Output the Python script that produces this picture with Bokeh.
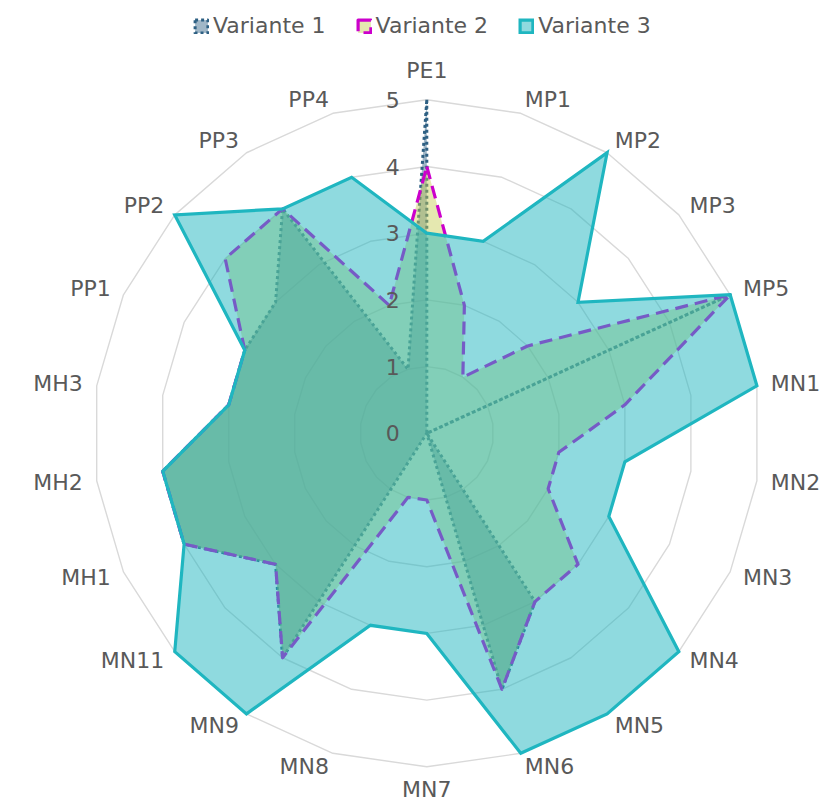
import numpy as np
from bokeh.plotting import figure
from bokeh.models import Range1d, Legend, LegendItem
from bokeh.core.properties import value
from bokeh.embed import file_html
from bokeh.resources import INLINE

# ---------------- data ----------------
categories = ["PE1", "MP1", "MP2", "MP3", "MP5", "MN1", "MN2", "MN3", "MN4", "MN5",
              "MN6", "MN7", "MN8", "MN9", "MN11", "MH1", "MH2", "MH3", "PP1", "PP2",
              "PP3", "PP4"]
variante_1 = [5, 0, 0, 0, 5, 0, 0, 0, 0, 3, 4, 0, 0, 4, 3, 4, 4, 3, 3, 3, 4, 1]
variante_2 = [4, 2, 1, 2, 5, 3, 2, 2, 3, 3, 4, 1, 1, 4, 3, 4, 4, 3, 3, 4, 4, 2]
variante_3 = [3, 3, 5, 3, 5, 5, 3, 3, 5, 5, 5, 3, 3, 5, 5, 4, 4, 3, 3, 5, 4, 4]
series_names = ["Variante 1", "Variante 2", "Variante 3"]
tick_levels = [0, 1, 2, 3, 4, 5]
max_level = 5

# ---------------- geometry / style ----------------
W, H = 827, 805
U = 66.7                      # pixels per value unit
cx, cy = 426.3, 432.8         # centre in canvas pixels
FONT = "DejaVu Sans"
TXT = "#595959"

n = len(categories)
theta = np.arange(n) * 2 * np.pi / n
s, c = np.sin(theta), np.cos(theta)

p = figure(width=W, height=H, output_backend="svg", toolbar_location=None,
           x_range=Range1d(-cx / U, (W - cx) / U),
           y_range=Range1d(-(H - cy) / U, cy / U),
           min_border=0, x_axis_location=None, y_axis_location=None)
p.grid.visible = False
p.outline_line_color = None
p.background_fill_color = "white"

# ring grid
ring_xs = [list(lv * np.append(s, s[0])) for lv in tick_levels[1:]]
ring_ys = [list(lv * np.append(c, c[0])) for lv in tick_levels[1:]]
p.multi_line(ring_xs, ring_ys, line_color="#D9D9D9", line_width=1.4)

# series
styles = [
    dict(fill_color="#2E6083", fill_alpha=0.45, line_color="#2E6083",
         line_width=3, line_dash="3 3", line_join="round"),
    dict(fill_color="#C5CC4F", fill_alpha=0.45, line_color="#CC00CC",
         line_width=3.2, line_dash="13 7", line_join="round"),
    dict(fill_color="#1FB6C0", fill_alpha=0.5, line_color="#1FB6C0",
         line_width=3.2, line_join="miter"),
]
renderers = []
for vals, st in zip([variante_1, variante_2, variante_3], styles):
    v = np.array(vals, dtype=float)
    r = p.patch(x=list(v * s), y=list(v * c), **st)
    renderers.append(r)

# tick labels on the PE1 axis
p.text(x=[0] * len(tick_levels), y=tick_levels, text=[str(t) for t in tick_levels],
       text_align="right", text_baseline="middle", x_offset=-27,
       text_font=value(FONT), text_font_size="22px", text_color=TXT)

# category labels
gap = 14 / U
vgap_top = 29.5 / U
vgap_bottom = 22.5 / U
groups = {"left": [], "right": [], "center": []}
for i, name in enumerate(categories):
    if abs(s[i]) < 0.01:
        rr = max_level + (vgap_top if c[i] > 0 else vgap_bottom)
        groups["center"].append((rr * s[i], rr * c[i], name))
    else:
        rr = max_level + gap
        key = "left" if s[i] > 0 else "right"
        groups[key].append((rr * s[i], rr * c[i], name))
for align, items in groups.items():
    if not items:
        continue
    xs, ys, ts = zip(*items)
    p.text(x=list(xs), y=list(ys), text=list(ts), text_align=align,
           text_baseline="middle", text_font=value(FONT), text_font_size="22px",
           text_color=TXT)

legend = Legend(items=[LegendItem(label=nm, renderers=[r]) for nm, r in zip(series_names, renderers)],
                orientation="horizontal", location=(193, H - 38),
                glyph_width=16, glyph_height=16, label_standoff=4, spacing=30,
                padding=0, margin=0, border_line_alpha=0, background_fill_alpha=0,
                label_text_font=FONT, label_text_font_size="22px", label_text_color=TXT)
p.add_layout(legend)

open("out.html", "w").write(file_html(p, INLINE))
